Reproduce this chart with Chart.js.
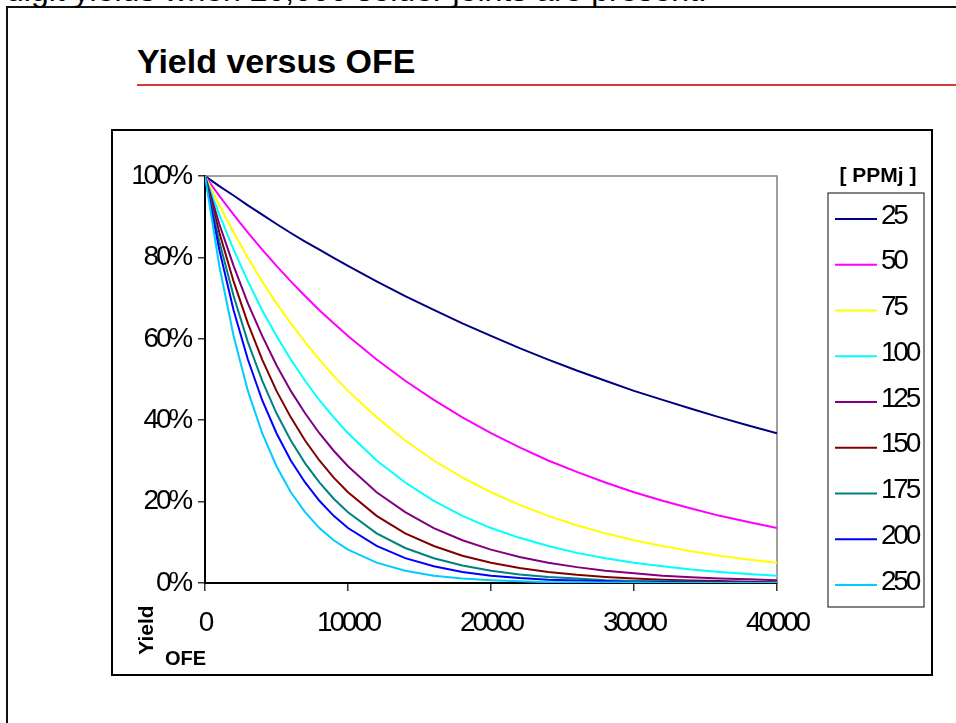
<!DOCTYPE html>
<html>
<head>
<meta charset="utf-8">
<script src="https://cdn.jsdelivr.net/npm/chart.js@4.4.1/dist/chart.umd.min.js"></script>
<style>
  html, body { margin: 0; padding: 0; background: #fff; }
  body { width: 956px; height: 723px; overflow: hidden; position: relative; font-family: "Liberation Sans", Arial, sans-serif; color: #000; }
  #topText { position: absolute; left: 6px; top: -26px; font-size: 32px; line-height: 32px; white-space: nowrap; }
  #slide { position: absolute; left: 6px; top: 6px; width: 1000px; height: 800px; border-left: 2px solid #111; border-top: 2px solid #111; background: transparent; }
  #title { position: absolute; left: 137px; top: 44px; font-size: 34px; line-height: 34px; font-weight: bold; white-space: nowrap; }
  #rule { position: absolute; left: 137px; top: 84px; width: 819px; height: 2px; background: #d23c3c; }
  #chartBox { position: absolute; left: 111px; top: 129px; width: 818px; height: 543px; border: 2px solid #000; background: #fff; }
  canvas { display: block; }
</style>
</head>
<body>
<div id="slide"></div>
<div id="topText">digit yields when 20,000 solder joints are present.</div>
<div id="title">Yield versus OFE</div>
<div id="rule"></div>
<div id="chartBox"><canvas id="yieldChart" width="818" height="543"></canvas></div>
<script>
// OFE (x axis)
const ofe = [0, 1000, 2000, 3000, 4000, 5000, 6000, 7000, 8000, 9000, 10000,
  12000, 14000, 16000, 18000, 20000, 22000, 24000, 26000, 28000, 30000,
  32000, 34000, 36000, 38000, 40000];

// yield per PPMj series
const ppm25 = [1.00, 0.975, 0.952, 0.928, 0.905, 0.882, 0.860, 0.839, 0.819, 0.799, 0.779,
  0.741, 0.705, 0.671, 0.638, 0.607, 0.577, 0.549, 0.522, 0.497, 0.472,
  0.450, 0.428, 0.407, 0.387, 0.368];
const ppm50 = [1.00, 0.951, 0.905, 0.861, 0.819, 0.779, 0.741, 0.705, 0.670, 0.638, 0.607,
  0.549, 0.497, 0.450, 0.407, 0.368, 0.333, 0.301, 0.273, 0.247, 0.223,
  0.202, 0.183, 0.165, 0.150, 0.135];
const ppm75 = [1.00, 0.928, 0.861, 0.799, 0.741, 0.687, 0.638, 0.592, 0.549, 0.509, 0.472,
  0.407, 0.350, 0.301, 0.259, 0.223, 0.192, 0.165, 0.142, 0.122, 0.105,
  0.091, 0.078, 0.067, 0.058, 0.050];
const ppm100 = [1.00, 0.905, 0.819, 0.741, 0.670, 0.607, 0.549, 0.497, 0.449, 0.407, 0.368,
  0.301, 0.247, 0.202, 0.165, 0.135, 0.111, 0.091, 0.074, 0.061, 0.050,
  0.041, 0.033, 0.027, 0.022, 0.018];
const ppm125 = [1.00, 0.882, 0.779, 0.687, 0.607, 0.535, 0.472, 0.417, 0.368, 0.325, 0.287,
  0.223, 0.174, 0.135, 0.105, 0.082, 0.064, 0.050, 0.039, 0.030, 0.024,
  0.018, 0.014, 0.011, 0.009, 0.007];
const ppm150 = [1.00, 0.861, 0.741, 0.638, 0.549, 0.472, 0.407, 0.350, 0.301, 0.259, 0.223,
  0.165, 0.122, 0.091, 0.067, 0.050, 0.037, 0.027, 0.020, 0.015, 0.011,
  0.008, 0.006, 0.005, 0.003, 0.002];
const ppm175 = [1.00, 0.839, 0.705, 0.592, 0.497, 0.417, 0.350, 0.294, 0.247, 0.207, 0.174,
  0.122, 0.086, 0.061, 0.043, 0.030, 0.021, 0.015, 0.011, 0.007, 0.005,
  0.004, 0.003, 0.002, 0.001, 0.001];
const ppm200 = [1.00, 0.819, 0.670, 0.549, 0.449, 0.368, 0.301, 0.247, 0.202, 0.165, 0.135,
  0.091, 0.061, 0.041, 0.027, 0.018, 0.012, 0.008, 0.006, 0.004, 0.002,
  0.002, 0.001, 0.001, 0.001, 0.000];
const ppm250 = [1.00, 0.779, 0.607, 0.472, 0.368, 0.287, 0.223, 0.174, 0.135, 0.105, 0.082,
  0.050, 0.030, 0.018, 0.011, 0.007, 0.004, 0.002, 0.002, 0.001, 0.001,
  0.000, 0.000, 0.000, 0.000, 0.000];

const seriesLabels = ["25", "50", "75", "100", "125", "150", "175", "200", "250"];
const seriesValues = [ppm25, ppm50, ppm75, ppm100, ppm125, ppm150, ppm175, ppm200, ppm250];
const lineColors = ["#000080", "#ff00ff", "#ffff00", "#00ffff", "#800080",
  "#800000", "#008080", "#0000ff", "#00ccff"];

const yTicks = [0, 0.2, 0.4, 0.6, 0.8, 1.0];
const xTicks = [0, 10000, 20000, 30000, 40000];

const FONT = "'Liberation Sans', Arial, sans-serif";
const TIGHT = "-3.2px"; // excel squeezes the numbers

const datasets = seriesValues.map(function (vals, i) {
  return {
    label: seriesLabels[i],
    data: vals.map(function (v, j) { return { x: ofe[j], y: v }; }),
    borderColor: lineColors[i],
    backgroundColor: lineColors[i],
    borderWidth: 2,
    pointRadius: 0,
    tension: 0,
    fill: false,
    order: seriesValues.length - i, // later series on top like excel
  };
});

// grey frame, axis titles and the boxed legend
const decorPlugin = {
  id: "decor",
  beforeDraw(chart) {
    chart.ctx.letterSpacing = TIGHT;
  },
  beforeDatasetsDraw(chart) {
    const { ctx, chartArea: a } = chart;
    ctx.save();
    ctx.strokeStyle = "#808080";
    ctx.lineWidth = 1.5;
    ctx.beginPath();
    ctx.moveTo(a.left, a.top);
    ctx.lineTo(a.right, a.top);
    ctx.lineTo(a.right, a.bottom);
    ctx.stroke();
    ctx.restore();
  },
  afterDraw(chart) {
    const { ctx, chartArea: a } = chart;
    ctx.save();
    ctx.letterSpacing = "0px";
    ctx.fillStyle = "#000";
    ctx.font = "bold 21px " + FONT;
    // "Yield" sits rotated under the y axis
    ctx.save();
    ctx.translate(a.left - 52, a.bottom + 47);
    ctx.rotate(-Math.PI / 2);
    ctx.textAlign = "center";
    ctx.textBaseline = "alphabetic";
    ctx.fillText("Yield", 0, 0);
    ctx.restore();
    ctx.font = "bold 20px " + FONT;
    ctx.textAlign = "left";
    ctx.textBaseline = "alphabetic";
    ctx.fillText("OFE", a.left - 40, a.bottom + 82);

    // legend
    const lx = a.right + 51, ly = a.top + 17, lw = 96, lh = 414;
    ctx.font = "bold 21px " + FONT;
    ctx.textAlign = "center";
    ctx.fillText("[ PPMj ]", lx + 50, ly - 11);
    ctx.strokeStyle = "#333";
    ctx.lineWidth = 1.2;
    ctx.strokeRect(lx, ly, lw, lh);
    ctx.letterSpacing = TIGHT;
    ctx.font = "28px " + FONT;
    ctx.textAlign = "left";
    ctx.textBaseline = "middle";
    chart.data.datasets.forEach(function (ds, i) {
      const y = ly + 26 + i * 45.75;
      ctx.strokeStyle = ds.borderColor;
      ctx.lineWidth = 2;
      ctx.beginPath();
      ctx.moveTo(lx + 7, y);
      ctx.lineTo(lx + 49, y);
      ctx.stroke();
      ctx.fillStyle = "#000";
      ctx.fillText(ds.label, lx + 53, y - 3);
    });
    ctx.restore();
  },
};

new Chart(document.getElementById("yieldChart"), {
  type: "line",
  data: { datasets: datasets },
  options: {
    responsive: false,
    animation: false,
    devicePixelRatio: 1,
    layout: { padding: { top: 45, right: 154, bottom: 0, left: 0 } },
    plugins: {
      legend: { display: false },
      tooltip: { enabled: false },
    },
    scales: {
      x: {
        type: "linear",
        min: 0,
        max: 40000,
        afterBuildTicks: function (scale) {
          scale.ticks = xTicks.map(function (v) { return { value: v }; });
        },
        ticks: {
          color: "#000",
          padding: 15,
          maxRotation: 0,
          font: { family: FONT, size: 28 },
          callback: function (v) { return String(v); },
        },
        grid: { drawOnChartArea: false, drawTicks: true, tickLength: 8, color: "#333", lineWidth: 1.5 },
        border: { color: "#000", width: 2 },
        afterFit: function (scale) { scale.height = 91; },
      },
      y: {
        min: 0,
        max: 1,
        afterBuildTicks: function (scale) {
          scale.ticks = yTicks.map(function (v) { return { value: v }; });
        },
        ticks: {
          color: "#000",
          padding: 8,
          font: { family: FONT, size: 28 },
          callback: function (v) { return Math.round(v * 100) + "%"; },
        },
        grid: { drawOnChartArea: false, drawTicks: true, tickLength: 7, color: "#333", lineWidth: 1.5 },
        border: { color: "#000", width: 2 },
        afterFit: function (scale) { scale.width = 92; },
      },
    },
  },
  plugins: [decorPlugin],
});
</script>
</body>
</html>
